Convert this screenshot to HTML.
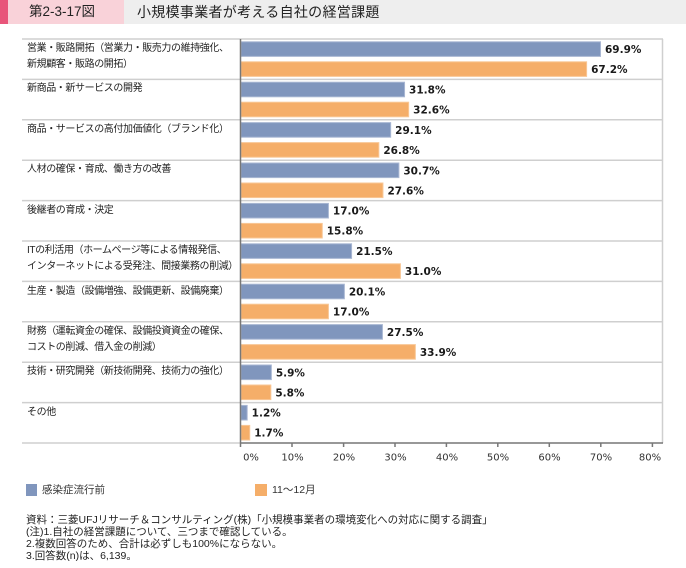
<!DOCTYPE html>
<html><head><meta charset="utf-8">
<style>
html,body{margin:0;padding:0;background:#fff;}
body{width:686px;height:568px;position:relative;overflow:hidden;font-family:"Liberation Sans","Noto Sans CJK JP",sans-serif;color:#222;}
.hdr{position:absolute;left:0;top:0;width:686px;height:24px;background:#eeeeee;}
.hdr .pk{position:absolute;left:0;top:0;width:8px;height:24px;background:#e8557a;}
.hdr .lp{position:absolute;left:8px;top:0;width:116px;height:24px;background:#f9d2d9;}
.hdr .num{position:absolute;left:29px;top:3px;font-size:13.5px;line-height:18px;color:#222;}
.hdr .ttl{position:absolute;left:137px;top:3px;font-size:14px;line-height:18px;color:#222;letter-spacing:0.3px;}
.lab{position:absolute;left:27px;font-size:10px;line-height:16px;color:#222;white-space:nowrap;letter-spacing:-0.4px;}
.leg{position:absolute;font-size:10.5px;line-height:14px;color:#333;white-space:nowrap;}
.note{position:absolute;left:26px;font-size:10.5px;line-height:12px;color:#222;white-space:nowrap;}
</style></head><body>
<div class="hdr"><div class="pk"></div><div class="lp"></div><div class="num">第2-3-17図</div><div class="ttl">小規模事業者が考える自社の経営課題</div></div>

<svg width="686" height="568" style="position:absolute;left:0;top:0">
<g stroke="#cfcfcf" stroke-width="1.5">
<line x1="22" y1="39" x2="663" y2="39"/>
<line x1="22" y1="79.4" x2="663" y2="79.4"/>
<line x1="22" y1="119.8" x2="663" y2="119.8"/>
<line x1="22" y1="160.2" x2="663" y2="160.2"/>
<line x1="22" y1="200.6" x2="663" y2="200.6"/>
<line x1="22" y1="241" x2="663" y2="241"/>
<line x1="22" y1="281.4" x2="663" y2="281.4"/>
<line x1="22" y1="321.8" x2="663" y2="321.8"/>
<line x1="22" y1="362.2" x2="663" y2="362.2"/>
<line x1="22" y1="402.6" x2="663" y2="402.6"/>
<line x1="22" y1="443" x2="241" y2="443"/>
<line x1="662.5" y1="39" x2="662.5" y2="443"/>
</g>
<g id="bars"></g>
<g stroke="#777" stroke-width="1.5">
<line x1="240.5" y1="39" x2="240.5" y2="447"/>
<line x1="240.5" y1="443" x2="663" y2="443"/>
<line x1="292" y1="443" x2="292" y2="447"/>
<line x1="343.6" y1="443" x2="343.6" y2="447"/>
<line x1="395" y1="443" x2="395" y2="447"/>
<line x1="446.4" y1="443" x2="446.4" y2="447"/>
<line x1="497.8" y1="443" x2="497.8" y2="447"/>
<line x1="549.3" y1="443" x2="549.3" y2="447"/>
<line x1="600.8" y1="443" x2="600.8" y2="447"/>
<line x1="652.4" y1="443" x2="652.4" y2="447"/>
</g>
<g font-family="DejaVu Sans, sans-serif" font-size="10" fill="#333" text-anchor="middle">
<text x="251" y="460.5">0%</text>
<text x="292.5" y="460.5">10%</text>
<text x="344" y="460.5">20%</text>
<text x="395.5" y="460.5">30%</text>
<text x="447" y="460.5">40%</text>
<text x="498" y="460.5">50%</text>
<text x="549.5" y="460.5">60%</text>
<text x="601" y="460.5">70%</text>
<text x="650" y="460.5">80%</text>
</g>
<g id="vals" font-family="DejaVu Sans, sans-serif" font-weight="bold" font-size="10.5" fill="#1a1a1a"></g>
<rect x="26" y="484" width="11" height="12" fill="#8096bd"/>
<rect x="255" y="484" width="12" height="12" fill="#f5ae69"/>
</svg>

<div class="lab" style="top:41px">営業・販路開拓（営業力・販売力の維持強化、<br>新規顧客・販路の開拓）</div>
<div class="lab" style="top:81px">新商品・新サービスの開発</div>
<div class="lab" style="top:122px">商品・サービスの高付加価値化（ブランド化）</div>
<div class="lab" style="top:162px">人材の確保・育成、働き方の改善</div>
<div class="lab" style="top:203px">後継者の育成・決定</div>
<div class="lab" style="top:243px">ITの利活用（ホームページ等による情報発信、<br>インターネットによる受発注、間接業務の削減）</div>
<div class="lab" style="top:284px">生産・製造（設備増強、設備更新、設備廃棄）</div>
<div class="lab" style="top:324px">財務（運転資金の確保、設備投資資金の確保、<br>コストの削減、借入金の削減）</div>
<div class="lab" style="top:364px">技術・研究開発（新技術開発、技術力の強化）</div>
<div class="lab" style="top:405px">その他</div>

<div class="leg" style="left:42px;top:483px">感染症流行前</div>
<div class="leg" style="left:272px;top:483px">11～12月</div>

<div class="note" style="top:514px">資料：三菱UFJリサーチ＆コンサルティング(株)「小規模事業者の環境変化への対応に関する調査」</div>
<div class="note" style="top:526px">(注)1.自社の経営課題について、三つまで確認している。</div>
<div class="note" style="top:538px">2.複数回答のため、合計は必ずしも100%にならない。</div>
<div class="note" style="top:550px">3.回答数(n)は、6,139。</div>

<script>
(function(){
var data=[[69.9,67.2],[31.8,32.6],[29.1,26.8],[30.7,27.6],[17.0,15.8],[21.5,31.0],[20.1,17.0],[27.5,33.9],[5.9,5.8],[1.2,1.7]];
var ns="http://www.w3.org/2000/svg";
var bars=document.getElementById("bars"),vals=document.getElementById("vals");
var x0=241,k=5.143;
for(var i=0;i<data.length;i++){
 var top=39+i*40.4;
 for(var j=0;j<2;j++){
  var v=data[i][j];
  var y=top+(j==0?2.8:22.8);
  var h=14.6;
  var w=v*k;
  var r=document.createElementNS(ns,"rect");
  r.setAttribute("x",x0);r.setAttribute("y",y);r.setAttribute("width",w);r.setAttribute("height",h);
  r.setAttribute("fill",j==0?"#8096bd":"#f5ae69");
  r.setAttribute("stroke",j==0?"#a9b7d3":"#f8c796");r.setAttribute("stroke-width","1");
  bars.appendChild(r);
  var t=document.createElementNS(ns,"text");
  t.setAttribute("x",x0+w+4.5);t.setAttribute("y",y+h/2+4);
  t.textContent=v.toFixed(1)+"%";
  vals.appendChild(t);
 }
}
})();
</script>
</body></html>
